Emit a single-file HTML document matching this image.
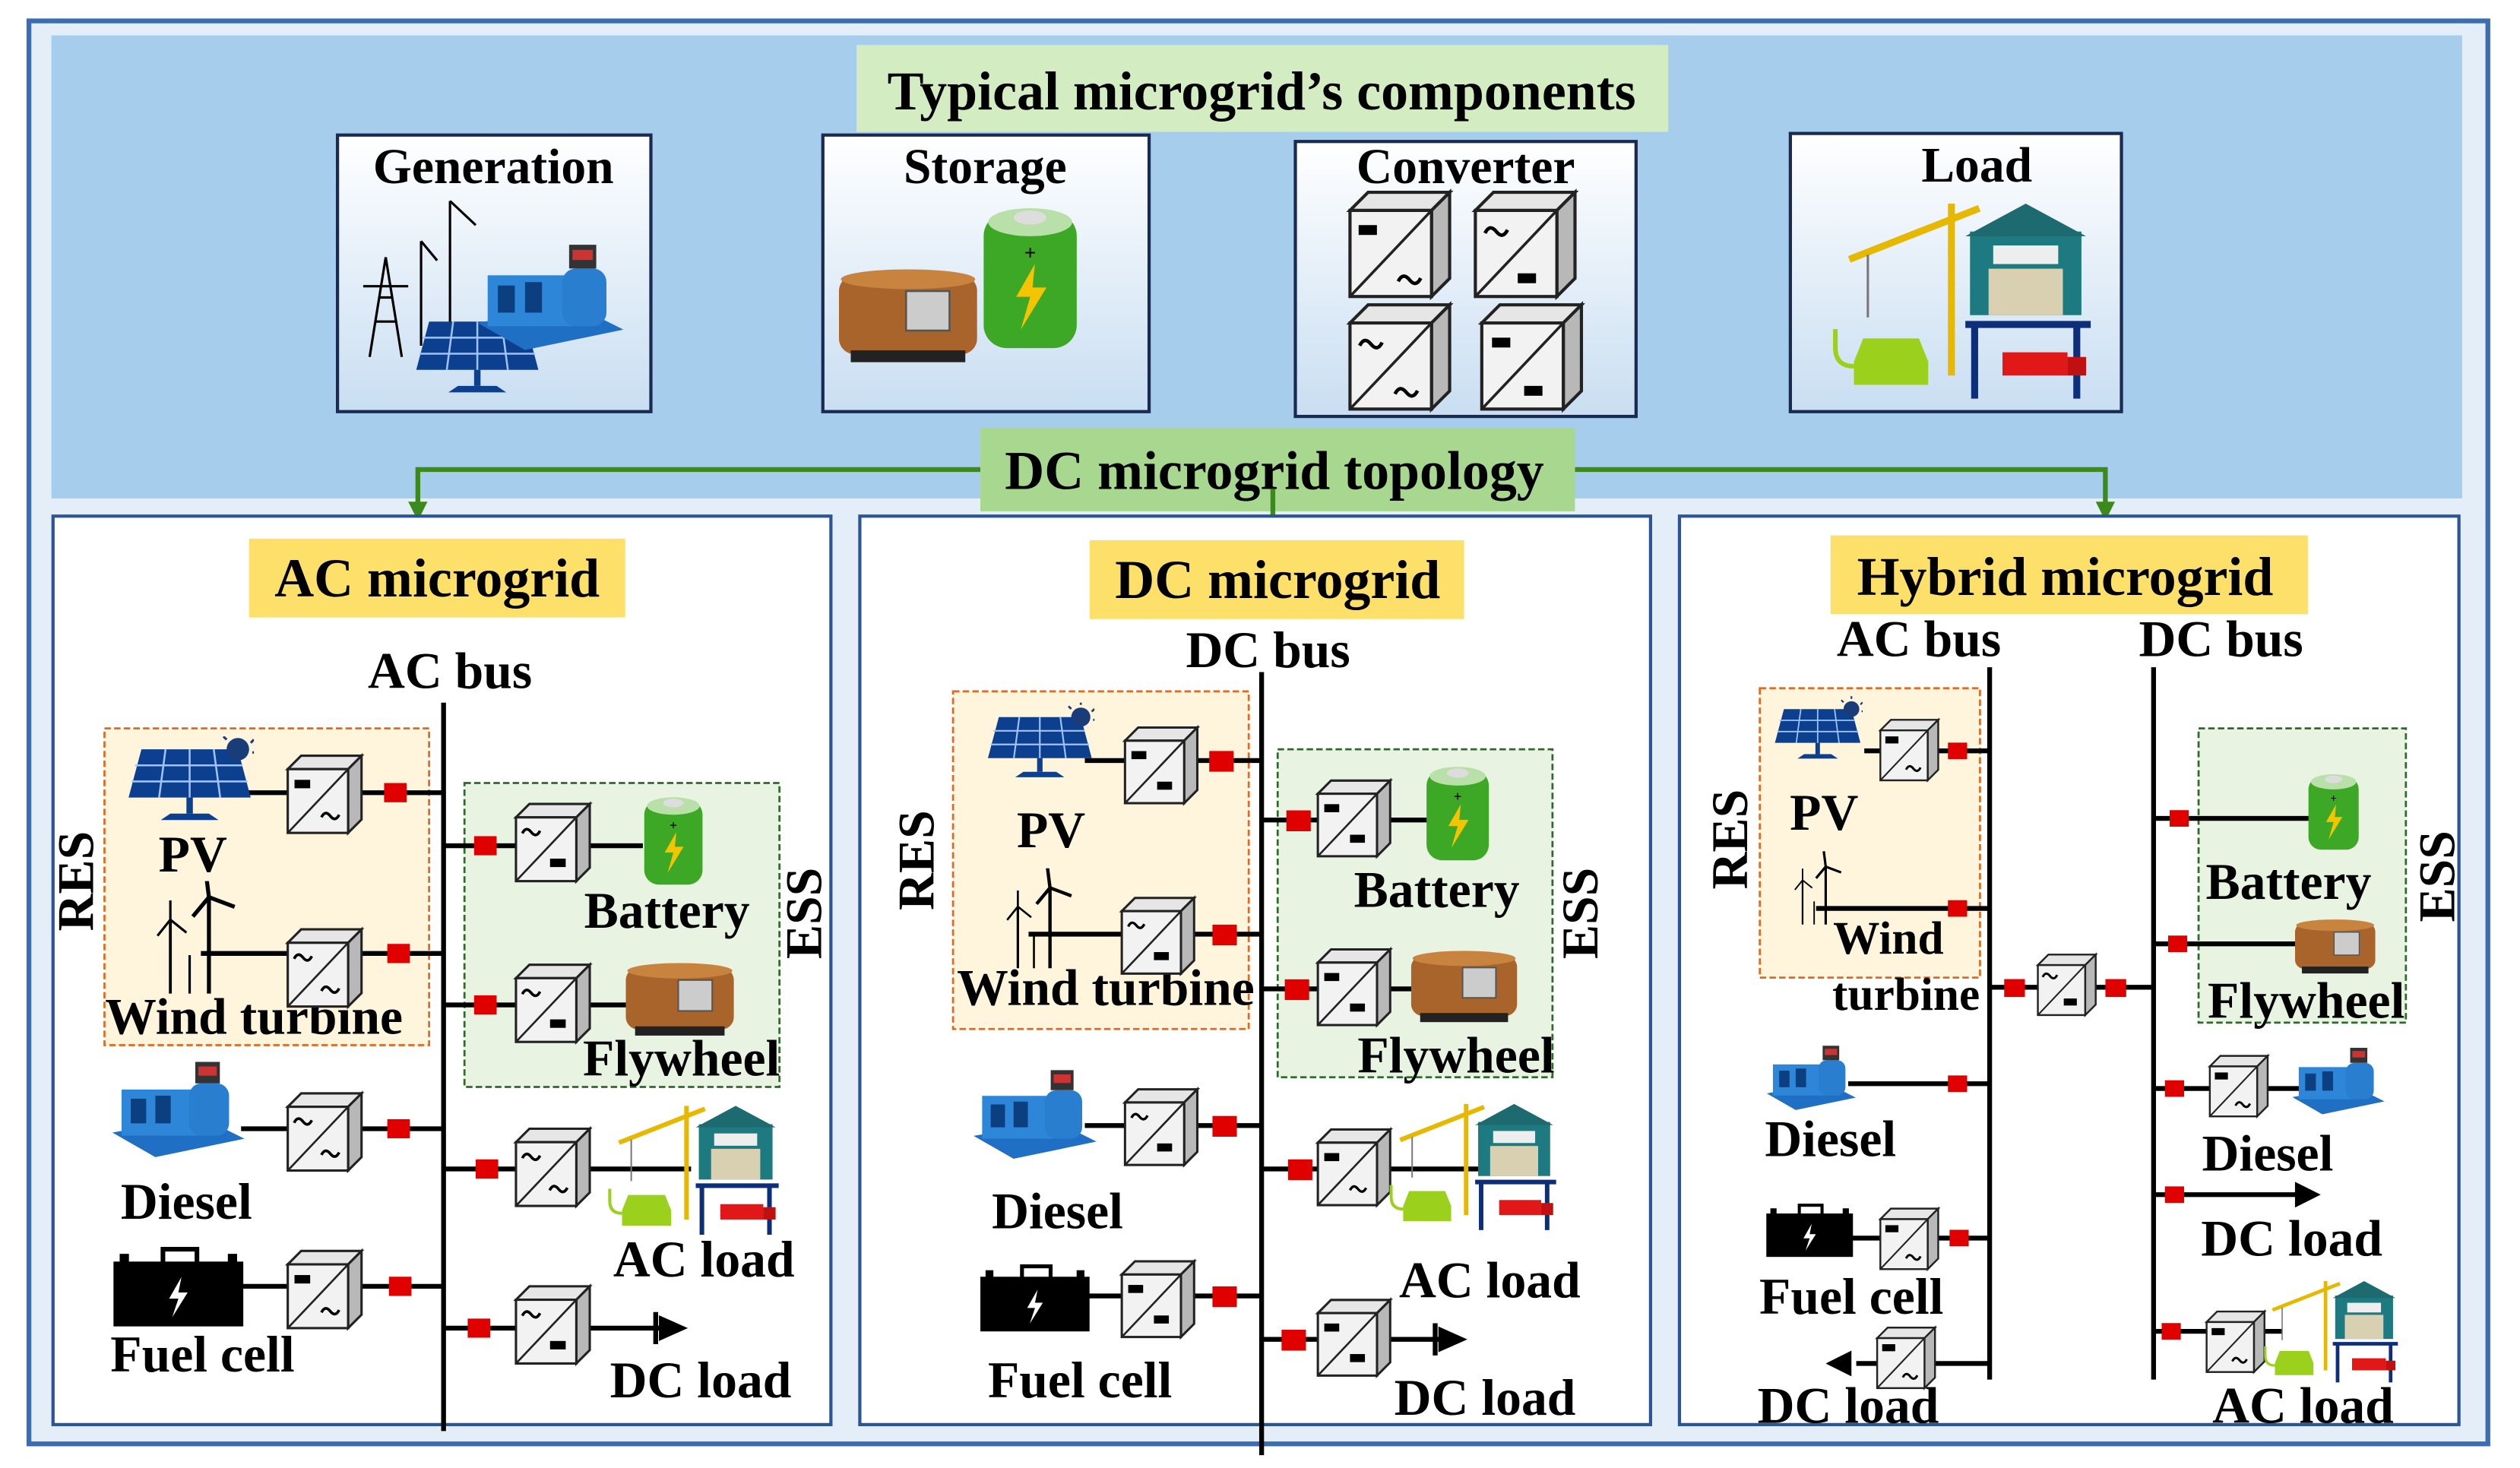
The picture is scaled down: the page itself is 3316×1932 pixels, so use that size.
<!DOCTYPE html>
<html><head><meta charset="utf-8"><style>
html,body{margin:0;padding:0;background:#fff}
svg{display:block}
text{font-family:"Liberation Serif",serif;font-weight:bold;fill:#000}
</style></head><body>
<svg width="3316" height="1932" viewBox="0 0 1568 913" preserveAspectRatio="none" xmlns="http://www.w3.org/2000/svg">
<defs>
<linearGradient id="wg" x1="0" y1="0" x2="0" y2="1"><stop offset="0" stop-color="#ffffff"/><stop offset="1" stop-color="#c9def2"/></linearGradient>
<symbol id="cube" viewBox="0 0 44 46" overflow="visible">
<polygon points="0,8 8,0 44,0 36,8" fill="#e6e6e6" stroke="#222" stroke-width="1.4"/>
<polygon points="36,8 44,0 44,38 36,46" fill="#b8b8b8" stroke="#222" stroke-width="1.4"/>
<rect x="0" y="8" width="36" height="38" fill="#f2f2f2" stroke="#222" stroke-width="1.4"/>
<line x1="36" y1="8" x2="0" y2="46" stroke="#222" stroke-width="1.2"/>
</symbol>
<symbol id="gd" viewBox="0 0 14 8" overflow="visible"><rect x="0" y="0" width="13" height="7" fill="#000"/></symbol>
<symbol id="gw" viewBox="0 0 14 8" overflow="visible"><path d="M0,5 Q3,-1 7,4 T14,3" fill="none" stroke="#000" stroke-width="2.2"/></symbol>
<symbol id="red" viewBox="0 0 14 12"><rect width="14" height="12" fill="#e00000"/></symbol>
<symbol id="pv" viewBox="0 0 80 56">
<polygon points="10,8 70,8 78,38 2,38" fill="#0d3f8f"/>
<g stroke="#9fc3ff" stroke-width="1.2"><line x1="6" y1="18" x2="73" y2="18"/><line x1="4" y1="28" x2="76" y2="28"/><line x1="25" y1="8" x2="21" y2="38"/><line x1="40" y1="8" x2="40" y2="38"/><line x1="55" y1="8" x2="59" y2="38"/></g>
<rect x="38" y="38" width="4" height="10" fill="#0d3f8f"/><path d="M22,52 L58,52 L52,48 L28,48Z" fill="#0d3f8f"/>
<circle cx="70" cy="8" r="7" fill="#1a3d7a"/><g stroke="#1a3d7a" stroke-width="1.5"><line x1="70" y1="-4" x2="70" y2="-1"/><line x1="80" y1="2" x2="78" y2="4"/><line x1="82" y1="10" x2="79" y2="10"/><line x1="61" y1="0" x2="63" y2="2"/></g>
</symbol>
<symbol id="wind" viewBox="0 0 60 70">
<g stroke="#000" fill="none" stroke-width="2.5"><line x1="40" y1="10" x2="40" y2="70"/><line x1="40" y1="10" x2="56" y2="16"/><line x1="40" y1="10" x2="38" y2="-6"/><line x1="40" y1="10" x2="30" y2="22"/>
<line x1="16" y1="24" x2="16" y2="70" stroke-width="1.8"/><line x1="16" y1="24" x2="26" y2="32" stroke-width="1.5"/><line x1="16" y1="24" x2="16" y2="12" stroke-width="1.5"/><line x1="16" y1="24" x2="8" y2="34" stroke-width="1.5"/>
<line x1="28" y1="46" x2="28" y2="70" stroke-width="1.5"/></g></symbol>
<symbol id="batt" viewBox="0 0 40 64">
<rect x="0" y="4" width="40" height="58" rx="10" fill="#3ca826"/><ellipse cx="20" cy="8" rx="18" ry="6" fill="#b8e0a8"/><ellipse cx="20" cy="6" rx="7" ry="3" fill="#ddd"/>
<path d="M22,26 L14,40 L20,40 L16,54 L27,36 L21,36 Z" fill="#f5c400"/><text x="20" y="24" font-size="9" text-anchor="middle" fill="#222">+</text></symbol>
<symbol id="fly" viewBox="0 0 70 50">
<rect x="0" y="4" width="70" height="40" rx="8" fill="#a8642a"/><ellipse cx="35" cy="6" rx="34" ry="5" fill="#c8843f"/><rect x="34" y="12" width="22" height="20" fill="#ccc" stroke="#555"/><rect x="6" y="42" width="58" height="6" fill="#222"/></symbol>
<symbol id="diesel" viewBox="0 0 90 64">
<polygon points="2,46 60,36 88,50 30,62" fill="#1f6fc4"/><rect x="8" y="18" width="50" height="30" fill="#2e86d8"/><rect x="52" y="14" width="26" height="34" rx="8" fill="#2a7ed0"/><rect x="56" y="0" width="16" height="14" fill="#333"/><rect x="58" y="3" width="12" height="6" fill="#c33"/><g fill="#0b3f80"><rect x="14" y="24" width="10" height="16"/><rect x="30" y="22" width="10" height="18"/></g></symbol>
<symbol id="fc" viewBox="0 0 84 52">
<rect x="0" y="10" width="84" height="42" fill="#000"/><rect x="32" y="2" width="22" height="10" fill="none" stroke="#000" stroke-width="3"/><rect x="4" y="5" width="6" height="6" fill="#000"/><rect x="74" y="5" width="6" height="6" fill="#000"/><path d="M44,20 L36,34 L42,34 L38,46 L48,30 L42,30Z" fill="#fff"/></symbol>
<symbol id="load" viewBox="0 0 120 90">
<g stroke="#e6b800" stroke-width="3" fill="none"><line x1="56" y1="6" x2="56" y2="80"/><line x1="12" y1="30" x2="68" y2="8"/><line x1="20" y1="28" x2="20" y2="55" stroke-width="1" stroke="#777"/></g>
<rect x="64" y="18" width="48" height="36" fill="#1d7a80"/><polygon points="62,20 88,6 114,20" fill="#1d6a70"/><rect x="74" y="24" width="28" height="8" fill="#eee"/><rect x="72" y="34" width="32" height="20" fill="#d8d0b0"/>
<path d="M62,58 L116,58 M66,58 L66,90 M110,58 L110,90" stroke="#0d2f7a" stroke-width="3" fill="none"/>
<path d="M18,64 h24 l4,10 v10 h-32 v-10z" fill="#9bd11c"/><path d="M14,76 q-8,0 -8,-8 v-8" stroke="#9bd11c" stroke-width="2" fill="none"/>
<rect x="78" y="70" width="28" height="10" fill="#e01818"/><rect x="106" y="72" width="8" height="8" fill="#c01010"/></symbol>
</defs>

<rect x="18" y="13" width="1530" height="885" fill="#e4eef8" stroke="#3b6db0" stroke-width="3"/>
<rect x="32" y="22" width="1500" height="288" fill="#a7cdec"/>
<rect x="533" y="28" width="505" height="54" fill="#d4ecc2"/>
<text x="785" y="68" font-size="34" text-anchor="middle">Typical microgrid’s components</text>

<rect x="210" y="84" width="195" height="172" fill="url(#wg)" stroke="#1a2a50" stroke-width="2"/>
<text x="307" y="114" font-size="31" text-anchor="middle">Generation</text>
<rect x="512" y="84" width="203" height="172" fill="url(#wg)" stroke="#1a2a50" stroke-width="2"/>
<text x="613" y="114" font-size="31" text-anchor="middle">Storage</text>
<rect x="806" y="88" width="212" height="171" fill="url(#wg)" stroke="#1a2a50" stroke-width="2"/>
<text x="912" y="114" font-size="31" text-anchor="middle">Converter</text>
<rect x="1114" y="83" width="206" height="173" fill="url(#wg)" stroke="#1a2a50" stroke-width="2"/>
<text x="1230" y="113" font-size="31" text-anchor="middle">Load</text>

<g stroke="#000" stroke-width="1.5" fill="none"><path d="M230,222 L240,160 L250,222 M234,200 L246,200 M236,185 L244,185 M226,178 L254,178"/>
<line x1="262" y1="150" x2="262" y2="215"/><line x1="280" y1="125" x2="280" y2="215"/><line x1="280" y1="125" x2="296" y2="140"/><line x1="262" y1="150" x2="272" y2="162"/></g>
<use href="#pv" x="252" y="192" width="90" height="56"/>
<use href="#diesel" x="295" y="150" width="95" height="72"/>
<use href="#fly" x="522" y="164" width="86" height="66"/>
<use href="#batt" x="612" y="124" width="58" height="98"/>
<use href="#cube" x="840" y="117" width="62" height="70"/><use href="#gd" x="845" y="140" width="13" height="7"/><use href="#gw" x="870" y="170" width="14" height="8"/>
<use href="#cube" x="918" y="117" width="62" height="70"/><use href="#gw" x="924" y="140" width="14" height="8"/><use href="#gd" x="944" y="170" width="13" height="7"/>
<use href="#cube" x="840" y="187" width="62" height="70"/><use href="#gw" x="846" y="210" width="14" height="8"/><use href="#gw" x="868" y="240" width="14" height="8"/>
<use href="#cube" x="922" y="187" width="62" height="70"/><use href="#gd" x="928" y="210" width="13" height="7"/><use href="#gd" x="948" y="240" width="13" height="7"/>
<use href="#load" x="1130" y="118" width="180" height="130"/>

<path d="M260,322 L260,292 L1310,292 L1310,322" fill="none" stroke="#3d8a1c" stroke-width="3"/>
<rect x="610" y="266" width="370" height="52" fill="#a8d890"/>
<text x="793" y="304" font-size="34" text-anchor="middle">DC microgrid topology</text>
<line x1="792" y1="304" x2="792" y2="324" stroke="#3d8a1c" stroke-width="3"/>
<polygon points="254,312 266,312 260,324" fill="#3d8a1c"/>
<polygon points="786,322 798,322 792,334" fill="#3d8a1c"/>
<polygon points="1304,312 1316,312 1310,324" fill="#3d8a1c"/>

<rect x="33" y="321" width="484" height="565" fill="#fff" stroke="#2c5596" stroke-width="2"/>
<rect x="535" y="321" width="492" height="565" fill="#fff" stroke="#2c5596" stroke-width="2"/>
<rect x="1045" y="321" width="485" height="565" fill="#fff" stroke="#2c5596" stroke-width="2"/>

<!-- AC microgrid -->
<rect x="155" y="335" width="234" height="49" fill="#fde06a"/>
<text x="272" y="371" font-size="34" text-anchor="middle">AC microgrid</text>
<text x="280" y="428" font-size="32" text-anchor="middle">AC bus</text>
<rect x="65" y="453" width="202" height="197" fill="#fff5dc" stroke="#e06a20" stroke-width="1.3" stroke-dasharray="4,2"/>
<rect x="289" y="487" width="196" height="189" fill="#e8f3e2" stroke="#2e6a2a" stroke-width="1.3" stroke-dasharray="4,2"/>
<line x1="276" y1="437" x2="276" y2="890" stroke="#000" stroke-width="3"/>
<text transform="translate(58,548) rotate(-90)" font-size="32" text-anchor="middle">RES</text>
<text transform="translate(511,568) rotate(-90)" font-size="32" text-anchor="middle">ESS</text>
<g stroke="#000" stroke-width="3">
<line x1="150" y1="493" x2="276" y2="493"/><line x1="125" y1="593" x2="276" y2="593"/><line x1="150" y1="702" x2="276" y2="702"/><line x1="150" y1="800" x2="276" y2="800"/>
<line x1="276" y1="526" x2="400" y2="526"/><line x1="276" y1="625" x2="400" y2="625"/><line x1="276" y1="727" x2="430" y2="727"/><line x1="276" y1="826" x2="415" y2="826"/>
</g>
<polygon points="410,818 428,826 410,834" fill="#000"/><line x1="408" y1="816" x2="408" y2="836" stroke="#000" stroke-width="3"/>
<use href="#pv" x="78" y="458" width="80" height="56"/><text x="120" y="542" font-size="32" text-anchor="middle">PV</text>
<use href="#wind" x="90" y="548" width="60" height="70"/><text x="158" y="643" font-size="32" text-anchor="middle">Wind turbine</text>
<use href="#diesel" x="68" y="660" width="86" height="62"/><text x="116" y="758" font-size="32" text-anchor="middle">Diesel</text>
<use href="#fc" x="70" y="775" width="82" height="50"/><text x="126" y="853" font-size="32" text-anchor="middle">Fuel cell</text>
<use href="#cube" x="178" y="470" width="48" height="48"/><use href="#gd" x="183" y="485" width="11" height="6"/><use href="#gw" x="200" y="504" width="11" height="7"/>
<use href="#cube" x="178" y="578" width="48" height="48"/><use href="#gw" x="183" y="592" width="11" height="7"/><use href="#gw" x="200" y="612" width="11" height="7"/>
<use href="#cube" x="178" y="680" width="48" height="48"/><use href="#gw" x="183" y="694" width="11" height="7"/><use href="#gw" x="200" y="714" width="11" height="7"/>
<use href="#cube" x="178" y="778" width="48" height="48"/><use href="#gd" x="183" y="793" width="11" height="6"/><use href="#gw" x="200" y="812" width="11" height="7"/>
<use href="#red" x="238" y="487" width="16" height="12"/><use href="#red" x="240" y="587" width="16" height="12"/><use href="#red" x="240" y="696" width="16" height="12"/><use href="#red" x="241" y="794" width="16" height="12"/>
<use href="#red" x="294" y="520" width="16" height="12"/><use href="#red" x="294" y="619" width="16" height="12"/><use href="#red" x="295" y="721" width="16" height="12"/><use href="#red" x="290" y="820" width="16" height="12"/>
<use href="#cube" x="320" y="500" width="48" height="48"/><use href="#gw" x="325" y="514" width="11" height="7"/><use href="#gd" x="342" y="534" width="11" height="6"/>
<use href="#cube" x="320" y="600" width="48" height="48"/><use href="#gw" x="325" y="614" width="11" height="7"/><use href="#gd" x="342" y="634" width="11" height="6"/>
<use href="#cube" x="320" y="702" width="48" height="48"/><use href="#gw" x="325" y="716" width="11" height="7"/><use href="#gw" x="342" y="736" width="11" height="7"/>
<use href="#cube" x="320" y="800" width="48" height="48"/><use href="#gw" x="325" y="814" width="11" height="7"/><use href="#gd" x="342" y="834" width="11" height="6"/>
<use href="#batt" x="396" y="494" width="46" height="58"/><text x="415" y="577" font-size="32" text-anchor="middle">Battery</text>
<use href="#fly" x="386" y="598" width="74" height="48"/><text x="424" y="669" font-size="32" text-anchor="middle">Flywheel</text>
<use href="#load" x="372" y="682" width="118" height="86"/><text x="438" y="794" font-size="32" text-anchor="middle">AC load</text>
<text x="436" y="869" font-size="32" text-anchor="middle">DC load</text>

<!-- DC microgrid -->
<rect x="678" y="336" width="233" height="49" fill="#fde06a"/>
<text x="795" y="372" font-size="34" text-anchor="middle">DC microgrid</text>
<text x="789" y="415" font-size="32" text-anchor="middle">DC bus</text>
<rect x="593" y="430" width="184" height="210" fill="#fff5dc" stroke="#e06a20" stroke-width="1.3" stroke-dasharray="4,2"/>
<rect x="795" y="466" width="171" height="204" fill="#e8f3e2" stroke="#2e6a2a" stroke-width="1.3" stroke-dasharray="4,2"/>
<line x1="785" y1="418" x2="785" y2="905" stroke="#000" stroke-width="3"/>
<text transform="translate(581,535) rotate(-90)" font-size="32" text-anchor="middle">RES</text>
<text transform="translate(994,568) rotate(-90)" font-size="32" text-anchor="middle">ESS</text>
<g stroke="#000" stroke-width="3">
<line x1="675" y1="473" x2="785" y2="473"/><line x1="640" y1="581" x2="785" y2="581"/><line x1="675" y1="700" x2="785" y2="700"/><line x1="675" y1="806" x2="785" y2="806"/>
<line x1="785" y1="510" x2="890" y2="510"/><line x1="785" y1="615" x2="890" y2="615"/><line x1="785" y1="727" x2="920" y2="727"/><line x1="785" y1="833" x2="905" y2="833"/>
</g>
<polygon points="895,825 913,833 895,841" fill="#000"/><line x1="893" y1="823" x2="893" y2="843" stroke="#000" stroke-width="3"/>
<use href="#pv" x="613" y="437" width="68" height="52"/><text x="654" y="527" font-size="32" text-anchor="middle">PV</text>
<use href="#wind" x="620" y="540" width="50" height="66"/><text x="688" y="625" font-size="32" text-anchor="middle">Wind turbine</text>
<use href="#diesel" x="604" y="660" width="80" height="68"/><text x="658" y="764" font-size="32" text-anchor="middle">Diesel</text>
<use href="#fc" x="610" y="782" width="68" height="50"/><text x="672" y="869" font-size="32" text-anchor="middle">Fuel cell</text>
<use href="#cube" x="700" y="452" width="45" height="48"/><use href="#gd" x="704" y="467" width="10" height="6"/><use href="#gd" x="720" y="486" width="10" height="6"/>
<use href="#cube" x="698" y="558" width="45" height="48"/><use href="#gw" x="702" y="572" width="10" height="7"/><use href="#gd" x="718" y="592" width="10" height="6"/>
<use href="#cube" x="700" y="677" width="45" height="48"/><use href="#gw" x="704" y="691" width="10" height="7"/><use href="#gd" x="720" y="711" width="10" height="6"/>
<use href="#cube" x="698" y="784" width="45" height="48"/><use href="#gd" x="702" y="799" width="10" height="6"/><use href="#gd" x="718" y="818" width="10" height="6"/>
<use href="#red" x="752" y="467" width="16" height="13"/><use href="#red" x="754" y="575" width="16" height="13"/><use href="#red" x="754" y="694" width="16" height="13"/><use href="#red" x="754" y="800" width="16" height="13"/>
<use href="#red" x="800" y="504" width="16" height="13"/><use href="#red" x="799" y="609" width="16" height="13"/><use href="#red" x="801" y="721" width="16" height="13"/><use href="#red" x="797" y="827" width="16" height="13"/>
<use href="#cube" x="820" y="485" width="45" height="48"/><use href="#gd" x="824" y="500" width="10" height="6"/><use href="#gd" x="840" y="519" width="10" height="6"/>
<use href="#cube" x="820" y="590" width="45" height="48"/><use href="#gd" x="824" y="605" width="10" height="6"/><use href="#gd" x="840" y="624" width="10" height="6"/>
<use href="#cube" x="820" y="702" width="45" height="48"/><use href="#gd" x="824" y="717" width="10" height="6"/><use href="#gw" x="840" y="736" width="10" height="7"/>
<use href="#cube" x="820" y="808" width="45" height="48"/><use href="#gd" x="824" y="823" width="10" height="6"/><use href="#gd" x="840" y="842" width="10" height="6"/>
<use href="#batt" x="884" y="475" width="46" height="62"/><text x="894" y="564" font-size="32" text-anchor="middle">Battery</text>
<use href="#fly" x="878" y="590" width="66" height="48"/><text x="906" y="667" font-size="32" text-anchor="middle">Flywheel</text>
<use href="#load" x="860" y="678" width="112" height="90"/><text x="927" y="807" font-size="32" text-anchor="middle">AC load</text>
<text x="924" y="880" font-size="32" text-anchor="middle">DC load</text>

<!-- Hybrid microgrid -->
<rect x="1139" y="333" width="297" height="49" fill="#fde06a"/>
<text x="1285" y="370" font-size="34" text-anchor="middle">Hybrid microgrid</text>
<text x="1194" y="408" font-size="32" text-anchor="middle">AC bus</text>
<text x="1382" y="408" font-size="32" text-anchor="middle">DC bus</text>
<rect x="1095" y="428" width="137" height="180" fill="#fff5dc" stroke="#e06a20" stroke-width="1.3" stroke-dasharray="4,2"/>
<rect x="1368" y="453" width="129" height="183" fill="#e8f3e2" stroke="#2e6a2a" stroke-width="1.3" stroke-dasharray="4,2"/>
<line x1="1238" y1="415" x2="1238" y2="858" stroke="#000" stroke-width="3"/>
<line x1="1340" y1="415" x2="1340" y2="858" stroke="#000" stroke-width="3"/>
<text transform="translate(1087,522) rotate(-90)" font-size="32" text-anchor="middle">RES</text>
<text transform="translate(1527,545) rotate(-90)" font-size="32" text-anchor="middle">ESS</text>
<g stroke="#000" stroke-width="3">
<line x1="1160" y1="467" x2="1238" y2="467"/><line x1="1130" y1="565" x2="1238" y2="565"/><line x1="1150" y1="674" x2="1238" y2="674"/><line x1="1150" y1="770" x2="1238" y2="770"/><line x1="1155" y1="848" x2="1238" y2="848"/>
<line x1="1238" y1="614" x2="1340" y2="614"/>
<line x1="1340" y1="509" x2="1440" y2="509"/><line x1="1340" y1="587" x2="1440" y2="587"/><line x1="1340" y1="677" x2="1440" y2="677"/><line x1="1340" y1="743" x2="1430" y2="743"/><line x1="1340" y1="828" x2="1420" y2="828"/>
</g>
<polygon points="1428,735 1444,743 1428,751" fill="#000"/>
<polygon points="1152,840 1136,848 1152,856" fill="#000"/>
<use href="#pv" x="1103" y="433" width="56" height="44"/><text x="1135" y="516" font-size="32" text-anchor="middle">PV</text>
<use href="#wind" x="1112" y="522" width="36" height="64"/><text x="1175" y="593" font-size="29" text-anchor="middle">Wind</text>
<text x="1186" y="628" font-size="29" text-anchor="middle">turbine</text>
<use href="#diesel" x="1098" y="642" width="58" height="58"/><text x="1139" y="719" font-size="32" text-anchor="middle">Diesel</text>
<use href="#fc" x="1099" y="741" width="54" height="48"/><text x="1152" y="817" font-size="32" text-anchor="middle">Fuel cell</text>
<text x="1150" y="885" font-size="32" text-anchor="middle">DC load</text>
<use href="#cube" x="1170" y="444" width="36" height="45"/><use href="#gd" x="1173" y="458" width="9" height="5"/><use href="#gw" x="1186" y="475" width="9" height="6"/>
<use href="#cube" x="1170" y="748" width="36" height="45"/><use href="#gd" x="1173" y="762" width="9" height="5"/><use href="#gw" x="1186" y="779" width="9" height="6"/>
<use href="#cube" x="1168" y="822" width="36" height="45"/><use href="#gd" x="1171" y="836" width="9" height="5"/><use href="#gw" x="1184" y="853" width="9" height="6"/>
<use href="#cube" x="1268" y="590" width="36" height="45"/><use href="#gw" x="1271" y="604" width="9" height="6"/><use href="#gd" x="1284" y="621" width="9" height="5"/>
<use href="#red" x="1212" y="461" width="12" height="12"/><use href="#red" x="1212" y="559" width="12" height="12"/><use href="#red" x="1212" y="668" width="12" height="12"/><use href="#red" x="1213" y="764" width="12" height="12"/>
<use href="#red" x="1247" y="608" width="13" height="13"/><use href="#red" x="1310" y="608" width="13" height="13"/>
<use href="#red" x="1350" y="503" width="12" height="12"/><use href="#red" x="1349" y="581" width="12" height="12"/><use href="#red" x="1347" y="671" width="12" height="12"/><use href="#red" x="1347" y="737" width="12" height="12"/><use href="#red" x="1345" y="822" width="12" height="12"/>
<use href="#batt" x="1434" y="480" width="36" height="50"/><text x="1424" y="559" font-size="32" text-anchor="middle">Battery</text>
<use href="#fly" x="1428" y="568" width="50" height="42"/><text x="1435" y="633" font-size="32" text-anchor="middle">Flywheel</text>
<use href="#cube" x="1375" y="653" width="36" height="45"/><use href="#gd" x="1378" y="667" width="9" height="5"/><use href="#gw" x="1391" y="684" width="9" height="6"/>
<use href="#diesel" x="1425" y="640" width="60" height="66"/><text x="1411" y="728" font-size="32" text-anchor="middle">Diesel</text>
<text x="1426" y="781" font-size="32" text-anchor="middle">DC load</text>
<use href="#cube" x="1373" y="812" width="36" height="45"/><use href="#gd" x="1376" y="826" width="9" height="5"/><use href="#gw" x="1389" y="843" width="9" height="6"/>
<use href="#load" x="1405" y="790" width="90" height="72"/><text x="1433" y="885" font-size="32" text-anchor="middle">AC load</text>
</svg>
</body></html>
